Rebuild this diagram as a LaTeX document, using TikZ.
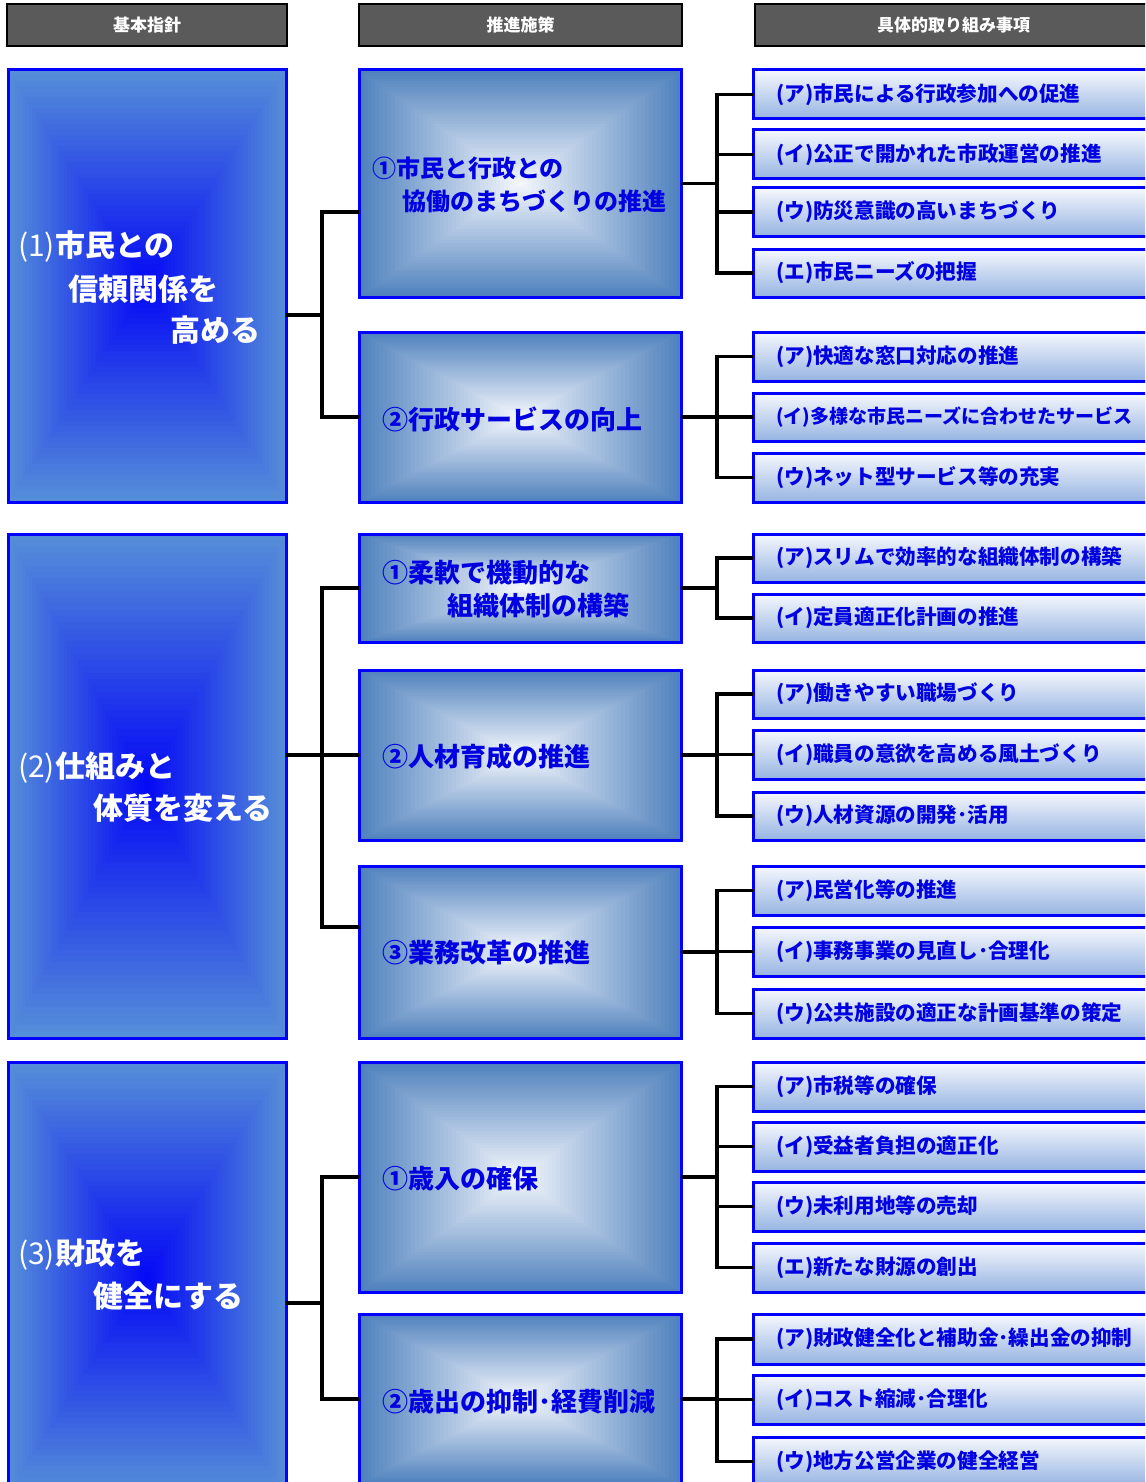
\documentclass[tikz,border=0pt]{standalone}
\usepackage{fontspec}
\setmainfont{Noto Sans CJK JP}
\usetikzlibrary{calc}
\definecolor{lout}{RGB}{85,142,216}
\definecolor{lin}{RGB}{5,10,245}
\definecolor{mout}{RGB}{79,129,189}
\definecolor{min}{RGB}{242,246,252}
\definecolor{rtop}{RGB}{246,248,253}
\definecolor{rbot}{RGB}{150,180,226}
\definecolor{bblue}{RGB}{0,0,255}
\definecolor{tblue}{RGB}{0,0,225}
\definecolor{hgray}{RGB}{90,90,90}
\tikzset{
  rgrad/.style 2 args={path picture={
    \foreach \i in {0,...,39}{
      \pgfmathsetmacro\gradf{\i/40}
      \pgfmathsetmacro\gradp{100*\i/39}
      \fill[#2!\gradp!#1] ($(path picture bounding box.south west)!\gradf!(path picture bounding box.center)$) rectangle ($(path picture bounding box.north east)!\gradf!(path picture bounding box.center)$);
    }}},
  lbox/.style={draw=bblue, line width=3pt, rgrad={lout}{lin}, inner sep=0pt, outer sep=0pt},
  mbox/.style={draw=bblue, line width=3pt, rgrad={mout}{min}, inner sep=0pt, outer sep=0pt},
  rbox/.style={draw=bblue, line width=3pt, top color=rtop, bottom color=rbot, inner sep=0pt, outer sep=0pt},
  hbox/.style={draw=black, line width=2.5pt, fill=hgray, inner sep=0pt, outer sep=0pt, text=white, font=\fontsize{17}{17}\selectfont\bfseries},
  conn/.style={draw=black, line width=3.5pt},
  ltxt/.style={text=white, font=\fontsize{30}{30}\selectfont\bfseries, anchor=west, inner sep=0pt},
  mtxt/.style={text=tblue, font=\fontsize{26}{26}\selectfont\bfseries, anchor=west, inner sep=0pt},
  rtxt/.style={text=tblue, font=\fontsize{20.6}{21}\selectfont\bfseries, anchor=west, inner sep=0pt},
}
\newcommand\mkbox[7]{\node[#1, minimum width={(#5-#3)*1pt}, minimum height={(#6-#4)*1pt}] (#2) at ({(#3+#5)/2},{(#4+#6)/2}) {#7};}
\newcommand\rb[4]{\mkbox{rbox}{#1}{753}{#2}{1152}{#3}{}\node[rtxt] (t#1) at ([xshift=23pt]#1.west) {#4};}
\begin{document}
\begin{tikzpicture}[x=1pt,y=-1pt]
\useasboundingbox (0,0) rectangle (1145,1482);
\clip (0,0) rectangle (1145,1482);
% headers
\mkbox{hbox}{H1}{7}{4}{287}{46}{基本指針}
\mkbox{hbox}{H2}{359}{4}{682}{46}{推進施策}
\mkbox{hbox}{H3}{755}{4}{1152}{46}{具体的取り組み事項}
% left boxes
\mkbox{lbox}{L1}{8}{70}{286}{502}{}
\mkbox{lbox}{L2}{8}{534}{286}{1038}{}
\mkbox{lbox}{L3}{8}{1062}{286}{1493}{}
% middle boxes
\mkbox{mbox}{M11}{359}{70}{681}{297}{}
\mkbox{mbox}{M12}{359}{332}{681}{502}{}
\mkbox{mbox}{M21}{359}{534}{681}{642}{}
\mkbox{mbox}{M22}{359}{670}{681}{840}{}
\mkbox{mbox}{M23}{359}{866}{681}{1038}{}
\mkbox{mbox}{M31}{359}{1062}{681}{1292}{}
\mkbox{mbox}{M32}{359}{1314}{681}{1484}{}
% right boxes
\rb{R11a}{70}{119}{(ア)市民による行政参加への促進}
\rb{R11b}{130}{179}{(イ)公正で開かれた市政運営の推進}
\rb{R11c}{188}{236}{(ウ)防災意識の高いまちづくり}
\rb{R11d}{249}{297}{(エ)市民ニーズの把握}
\rb{R12a}{332}{381}{(ア)快適な窓口対応の推進}
\rb{R12b}{393}{441}{{\fontsize{19}{19}\selectfont (イ)多様な市民ニーズに合わせたサービス}}
\rb{R12c}{453}{502}{(ウ)ネット型サービス等の充実}
\rb{R21a}{534}{582}{(ア)スリムで効率的な組織体制の構築}
\rb{R21b}{594}{642}{(イ)定員適正化計画の推進}
\rb{R22a}{670}{718}{(ア)働きやすい職場づくり}
\rb{R22b}{730}{779}{(イ)職員の意欲を高める風土づくり}
\rb{R22c}{792}{840}{(ウ)人材資源の開発･活用}
\rb{R23a}{866}{915}{(ア)民営化等の推進}
\rb{R23b}{927}{976}{(イ)事務事業の見直し･合理化}
\rb{R23c}{989}{1038}{(ウ)公共施設の適正な計画基準の策定}
\rb{R31a}{1062}{1111}{(ア)市税等の確保}
\rb{R31b}{1122}{1171}{(イ)受益者負担の適正化}
\rb{R31c}{1182}{1231}{(ウ)未利用地等の売却}
\rb{R31d}{1243}{1292}{(エ)新たな財源の創出}
\rb{R32a}{1314}{1364}{(ア)財政健全化と補助金･繰出金の抑制}
\rb{R32b}{1375}{1424}{(イ)コスト縮減･合理化}
\rb{R32c}{1437}{1486}{(ウ)地方公営企業の健全経営}
% left texts
\node[ltxt] (tL1a) at (18,247) {{\mdseries (1)}市民との};
\node[ltxt] (tL1b) at (68,289) {信頼関係を};
\node[ltxt] (tL1c) at (170,330) {高める};
\node[ltxt] (tL2a) at (18,768) {{\mdseries (2)}仕組みと};
\node[ltxt] (tL2b) at (93,808) {体質を変える};
\node[ltxt] (tL3a) at (18,1255) {{\mdseries (3)}財政を};
\node[ltxt] (tL3b) at (93,1296) {健全にする};
% middle texts
\node[mtxt, font=\fontsize{24}{24}\selectfont\bfseries] (tM11a) at (372,168) {①市民と行政との};
\node[mtxt, font=\fontsize{24}{24}\selectfont\bfseries] (tM11b) at (402,201) {協働のまちづくりの推進};
\node[mtxt] (tM12) at (382,419) {②行政サービスの向上};
\node[mtxt] (tM21a) at (382,573) {①柔軟で機動的な};
\node[mtxt] (tM21b) at (447,606) {組織体制の構築};
\node[mtxt] (tM22) at (382,757) {②人材育成の推進};
\node[mtxt] (tM23) at (382,953) {③業務改革の推進};
\node[mtxt] (tM31) at (382,1179) {①歳入の確保};
\node[mtxt] (tM32) at (382,1402) {②歳出の抑制･経費削減};
% connectors left -> middle
\draw[conn] (L1.east |- 0,315) -- (322,315);
\draw[conn] (M11.west |- 0,212) -| (322,417) -- (M12.west |- 0,417);
\draw[conn] (L2.east |- 0,755) -- (322,755);
\draw[conn] (M21.west) -| (322,927) -- (M23.west |- 0,927);
\draw[conn] (M22.west) -- (322,755);
\draw[conn] (L3.east |- 0,1303) -- (322,1303);
\draw[conn] (M31.west) -| (322,1399) -- (M32.west |- 0,1399);
% connectors middle -> right
\draw[conn] (M11.east) -- ++(36,0);
\draw[conn] (R11a.west) -- ++(-36,0) |- (R11d.west);
\draw[conn] (R11b.west) -- ++(-36,0);
\draw[conn] (R11c.west) -- ++(-36,0);
\draw[conn] (M12.east) -- ++(36,0);
\draw[conn] (R12a.west) -- ++(-36,0) |- (R12c.west);
\draw[conn] (R12b.west) -- ++(-36,0);
\draw[conn] (M21.east) -- ++(36,0);
\draw[conn] (R21a.west) -- ++(-36,0) |- (R21b.west);
\draw[conn] (M22.east) -- ++(36,0);
\draw[conn] (R22a.west) -- ++(-36,0) |- (R22c.west);
\draw[conn] (R22b.west) -- ++(-36,0);
\draw[conn] (M23.east) -- ++(36,0);
\draw[conn] (R23a.west) -- ++(-36,0) |- (R23c.west);
\draw[conn] (R23b.west) -- ++(-36,0);
\draw[conn] (M31.east) -- ++(36,0);
\draw[conn] (R31a.west) -- ++(-36,0) |- (R31d.west);
\draw[conn] (R31b.west) -- ++(-36,0);
\draw[conn] (R31c.west) -- ++(-36,0);
\draw[conn] (M32.east) -- ++(36,0);
\draw[conn] (R32a.west) -- ++(-36,0) |- (R32c.west);
\draw[conn] (R32b.west) -- ++(-36,0);
\end{tikzpicture}
\end{document}
